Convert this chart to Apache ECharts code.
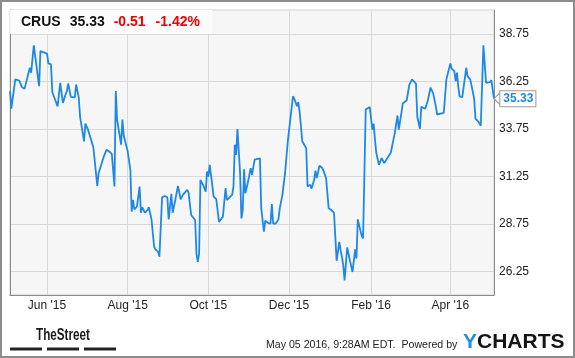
<!DOCTYPE html>
<html>
<head>
<meta charset="utf-8">
<script src="https://cdn.jsdelivr.net/npm/echarts@6/dist/echarts.min.js"></script>
<style>
html,body{margin:0;padding:0;background:#fff;}
#c{width:575px;height:358px;}
</style>
</head>
<body>
<div id="c"></div>
<script>
// ---- data ----
const ticker = 'CRUS';
const lastPrice = '35.33';
const priceChange = '-0.51';
const pctChange = '-1.42%';
const stamp = 'May 05 2016, 9:28AM EDT.  Powered by';

const dates = [
'2015-05-04','2015-05-05','2015-05-06','2015-05-08','2015-05-11','2015-05-13','2015-05-15','2015-05-16',
'2015-05-19','2015-05-20','2015-05-22','2015-05-26','2015-05-27','2015-05-29','2015-06-01','2015-06-02',
'2015-06-04','2015-06-05','2015-06-09','2015-06-11','2015-06-13','2015-06-15','2015-06-16','2015-06-17',
'2015-06-19','2015-06-22','2015-06-23','2015-06-25','2015-06-26','2015-06-29','2015-06-30','2015-07-02',
'2015-07-06','2015-07-07','2015-07-09','2015-07-10','2015-07-12','2015-07-14','2015-07-16','2015-07-18',
'2015-07-20','2015-07-22','2015-07-23','2015-07-24','2015-07-27','2015-07-28','2015-07-29','2015-07-30',
'2015-08-01','2015-08-03','2015-08-04','2015-08-05','2015-08-06','2015-08-08','2015-08-10','2015-08-11',
'2015-08-12','2015-08-14','2015-08-16','2015-08-17','2015-08-19','2015-08-20','2015-08-21','2015-08-22',
'2015-08-24','2015-08-25','2015-08-27','2015-08-29','2015-08-31','2015-09-01','2015-09-03','2015-09-04',
'2015-09-06','2015-09-08','2015-09-10','2015-09-12','2015-09-15','2015-09-16','2015-09-18','2015-09-21',
'2015-09-22','2015-09-23','2015-09-24','2015-09-25','2015-09-27','2015-09-29','2015-09-30','2015-10-01',
'2015-10-02','2015-10-03','2015-10-05','2015-10-07','2015-10-09','2015-10-12','2015-10-13','2015-10-14',
'2015-10-15','2015-10-17','2015-10-19','2015-10-20','2015-10-21','2015-10-22','2015-10-23','2015-10-25',
'2015-10-26','2015-10-27','2015-10-28','2015-10-29','2015-10-31','2015-11-02','2015-11-03','2015-11-04',
'2015-11-05','2015-11-06','2015-11-09','2015-11-10','2015-11-11','2015-11-12','2015-11-13','2015-11-15',
'2015-11-17','2015-11-18','2015-11-19','2015-11-21','2015-11-23','2015-11-24','2015-11-26','2015-11-28',
'2015-11-30','2015-12-01','2015-12-02','2015-12-03','2015-12-04','2015-12-05','2015-12-07','2015-12-08',
'2015-12-09','2015-12-10','2015-12-11','2015-12-14','2015-12-15','2015-12-16','2015-12-17','2015-12-18',
'2015-12-20','2015-12-21','2015-12-22','2015-12-24','2015-12-26','2015-12-27','2015-12-28','2015-12-29',
'2015-12-31','2016-01-02','2016-01-04','2016-01-05','2016-01-06','2016-01-07','2016-01-08','2016-01-09',
'2016-01-10','2016-01-11','2016-01-12','2016-01-14','2016-01-16','2016-01-18','2016-01-20','2016-01-21',
'2016-01-22','2016-01-25','2016-01-26','2016-01-28','2016-01-31','2016-02-02','2016-02-03','2016-02-04',
'2016-02-05','2016-02-07','2016-02-09','2016-02-11','2016-02-16','2016-02-17','2016-02-19','2016-02-21',
'2016-02-22','2016-02-24','2016-02-25','2016-02-28','2016-03-01','2016-03-02','2016-03-03','2016-03-06',
'2016-03-07','2016-03-09','2016-03-10','2016-03-13','2016-03-15','2016-03-17','2016-03-19','2016-03-21',
'2016-03-22','2016-03-27','2016-03-28','2016-03-29','2016-03-30','2016-04-01','2016-04-02','2016-04-04',
'2016-04-05','2016-04-06','2016-04-07','2016-04-08','2016-04-10','2016-04-11','2016-04-13','2016-04-14',
'2016-04-16','2016-04-17','2016-04-19','2016-04-20','2016-04-22','2016-04-24','2016-04-25','2016-04-26',
'2016-04-28','2016-04-29','2016-05-01','2016-05-02','2016-05-04'
];

const prices = [
35.73,34.81,34.90,36.35,36.29,35.94,35.85,35.95,
36.96,36.70,38.14,35.99,37.84,37.78,37.70,37.19,
37.14,35.67,34.93,36.17,35.11,35.55,35.73,36.13,
35.43,35.40,36.08,35.38,34.37,33.08,34.02,33.70,
32.79,32.80,30.74,31.41,31.85,32.30,32.65,32.55,
32.43,30.71,35.73,34.23,32.91,34.23,33.39,33.35,
32.56,31.59,29.39,30.00,29.51,29.65,30.71,29.33,
29.62,29.33,29.47,29.62,28.98,28.95,27.54,27.40,
27.27,27.01,30.14,30.21,30.14,28.98,30.32,29.33,
30.00,30.74,30.04,30.30,30.53,30.40,29.21,28.95,
27.18,26.74,27.18,31.06,30.80,30.44,31.50,31.23,
31.85,31.32,30.18,30.04,28.85,29.12,29.21,30.62,
30.00,30.14,30.27,30.71,32.91,32.38,33.74,31.41,
29.03,29.47,31.62,30.35,30.97,31.68,31.32,31.23,
32.12,32.19,32.19,29.56,29.47,28.33,28.91,28.80,
28.76,29.79,28.76,28.76,28.98,29.56,30.27,31.41,
33.03,33.10,34.27,34.32,35.46,35.32,34.94,35.15,
34.67,34.70,33.09,32.73,30.71,30.62,30.80,30.60,
31.06,31.55,31.15,31.80,31.70,31.55,31.45,31.15,
29.56,29.47,29.33,28.06,26.80,26.83,27.80,27.36,
27.01,26.57,25.77,27.50,26.83,26.21,27.40,26.92,
28.98,28.10,27.98,34.76,34.90,33.70,34.02,33.17,
32.47,31.85,32.21,31.94,32.50,32.55,33.53,34.44,
33.70,34.58,35.08,35.25,36.08,36.20,36.35,36.13,
34.37,33.75,34.90,34.80,35.25,35.91,35.61,34.93,
34.50,34.58,34.55,36.35,36.40,37.19,36.91,36.78,
36.25,36.70,35.96,35.46,35.42,35.50,36.96,36.52,
36.35,36.03,35.32,34.27,34.14,33.91,33.90,38.14,
36.17,36.10,36.20,36.31,35.33
];

const xTickDates = ['2015-06-01','2015-08-01','2015-10-01','2015-12-01','2016-02-01','2016-04-01'];
const yTickValues = [26.25, 28.75, 31.25, 33.75, 36.25, 38.75];
const xStart = '2015-05-04';
const xEnd = '2016-05-04';
const monthNames = ['Jan','Feb','Mar','Apr','May','Jun','Jul','Aug','Sep','Oct','Nov','Dec'];

// ---- chart ----
function ts(s) { const p = s.split('-').map(Number); return Date.UTC(p[0], p[1] - 1, p[2]); }
const FONT = '"Liberation Sans", Arial, sans-serif';
const LINE = '#1e88e5';
const chart = echarts.init(document.getElementById('c'));
const seriesData = dates.map((d, i) => [ts(d), prices[i]]);
const xTicks = xTickDates.map(ts);
const last = dates.length - 1;

chart.setOption({
  animation: false,
  backgroundColor: '#ffffff',
  textStyle: { fontFamily: FONT },
  title: {
    left: 10, top: 10,
    padding: [5, 12, 5, 11],
    backgroundColor: 'rgba(252,252,252,0.95)',
    text: '{s|' + ticker + '}{p|' + lastPrice + '}{c|' + priceChange + '}{d|' + pctChange + '}',
    textStyle: {
      rich: {
        s: { fontFamily: FONT, fontSize: 14, fontWeight: 'bold', color: '#111', padding: [0, 9, 0, 0] },
        p: { fontFamily: FONT, fontSize: 14, fontWeight: 'bold', color: '#111', padding: [0, 9, 0, 0] },
        c: { fontFamily: FONT, fontSize: 14, fontWeight: 'bold', color: '#f00000', padding: [0, 10, 0, 0] },
        d: { fontFamily: FONT, fontSize: 14, fontWeight: 'bold', color: '#f00000' }
      }
    }
  },
  grid: {
    left: 10, right: 81, top: 10, bottom: 63,
    show: true, backgroundColor: '#f6f6f6',
    borderColor: '#d2d2d2', borderWidth: 1
  },
  xAxis: {
    type: 'value',
    min: ts(xStart), max: ts(xEnd),
    axisLine: { show: true, onZero: false, lineStyle: { color: '#8a8a8a', width: 1 } },
    axisTick: { show: false, customValues: xTicks },
    axisLabel: {
      customValues: xTicks,
      formatter: function (v) {
        const d = new Date(v);
        return monthNames[d.getUTCMonth()] + " '" + String(d.getUTCFullYear()).slice(2);
      },
      color: '#222', fontSize: 12, margin: 5, fontFamily: FONT
    },
    splitLine: { show: true, lineStyle: { color: '#d9d9d9', width: 1 } }
  },
  yAxis: [{
    type: 'value', position: 'right', min: 25, max: 40,
    axisLine: { show: true, onZero: false, lineStyle: { color: '#8a8a8a', width: 1 } },
    axisTick: { show: false, customValues: yTickValues },
    axisLabel: {
      customValues: yTickValues,
      formatter: function (v) { return v.toFixed(2); },
      color: '#222', fontSize: 12, margin: 5, fontFamily: FONT
    },
    splitLine: { show: true, lineStyle: { color: '#d9d9d9', width: 1 } }
  }, {
    type: 'value', position: 'left', min: 25, max: 40,
    axisLine: { show: true, onZero: false, lineStyle: { color: '#8a8a8a', width: 1 } },
    axisTick: { show: false }, axisLabel: { show: false }, splitLine: { show: false }
  }],
  series: [{
    type: 'line',
    yAxisIndex: 0,
    data: seriesData,
    showSymbol: false,
    silent: true,
    lineStyle: { color: LINE, width: 1.8 },
    itemStyle: { color: LINE },
    markPoint: {
      silent: true,
      symbol: 'path://M6,0L0,5L6,10',
      symbolSize: [6, 12],
      symbolOffset: [3, 0],
      itemStyle: { color: '#ffffff', borderColor: '#9a9a9a', borderWidth: 1 },
      label: {
        show: true, position: 'right', distance: 0,
        formatter: lastPrice,
        color: LINE, fontWeight: 'bold', fontSize: 12, fontFamily: FONT,
        backgroundColor: '#ffffff', borderColor: '#9a9a9a', borderWidth: 1,
        padding: [2, 2, 1, 3]
      },
      data: [{ coord: [ts(dates[last]), prices[last]] }]
    }
  }],
  graphic: [
    { type: 'rect', silent: true, z: 100,
      shape: { x: 1, y: 1, width: 573, height: 356 },
      style: { fill: null, stroke: '#8c8c8c', lineWidth: 2 } },
    { type: 'text', silent: true, x: 36, y: 335.5, scaleX: 0.73,
      style: { text: 'TheStreet', font: 'bold 16px "Liberation Sans", Arial', fill: '#1a1a1a', verticalAlign: 'middle' } },
    { type: 'rect', silent: true, shape: { x: 10, y: 347.5, width: 32, height: 3 }, style: { fill: '#222' } },
    { type: 'rect', silent: true, shape: { x: 47, y: 347.5, width: 32, height: 3 }, style: { fill: '#222' } },
    { type: 'rect', silent: true, shape: { x: 84, y: 347.5, width: 32, height: 3 }, style: { fill: '#222' } },
    { type: 'text', silent: true, x: 266, y: 345,
      style: { text: stamp, font: '10.6px "Liberation Sans", Arial', fill: '#222', verticalAlign: 'middle' } },
    { type: 'text', silent: true, x: 463, y: 342,
      style: {
        text: '{y|Y}{c|CHARTS}', verticalAlign: 'middle',
        rich: {
          y: { fontFamily: FONT, fontSize: 21, fontWeight: 'bold', fill: '#1e8fe6' },
          c: { fontFamily: FONT, fontSize: 21, fontWeight: 'bold', fill: '#141414' }
        }
      } }
  ]
});
</script>
</body>
</html>
